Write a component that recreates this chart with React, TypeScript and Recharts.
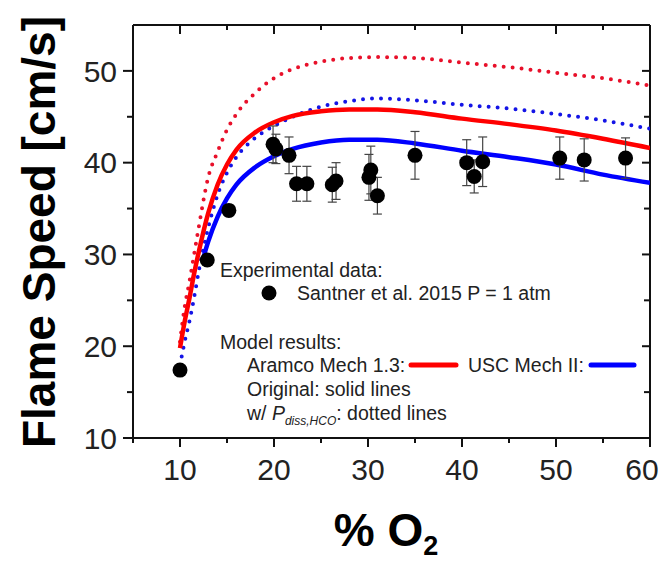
import { ComposedChart, Line, Scatter, ErrorBar, XAxis, YAxis, CartesianGrid } from 'recharts';

// Laminar flame speed vs. oxygen fraction
const curveO2 = [10, 10.5, 11, 11.5, 12, 13, 14, 15, 16, 18, 20, 22, 25, 28, 31, 35, 40, 45, 50, 55, 60];
const aramcoOriginal = [19.8, 22.7, 25.2, 27.9, 30.3, 34.5, 37.6, 39.8, 41.4, 43.3, 44.4, 45.1, 45.6, 45.8, 45.8, 45.5, 44.8, 44.2, 43.5, 42.6, 41.6];
const aramcoDiss = [20.5, 24.3, 27.0, 30.0, 33.0, 38.4, 41.2, 43.6, 45.3, 47.6, 49.2, 50.2, 51.0, 51.4, 51.5, 51.4, 50.9, 50.4, 49.8, 49.2, 48.4];
const uscDiss = [17.9, 20.5, 22.7, 25.3, 28.2, 32.9, 36.5, 38.9, 40.6, 42.7, 44.0, 45.0, 46.1, 46.7, 47.0, 46.8, 46.3, 45.9, 45.3, 44.6, 43.7];

const uscOriginalO2 = [12.5, 13, 14, 15, 16, 18, 20, 22, 25, 28, 31, 35, 40, 45, 50, 55, 60];
const uscOriginal = [29.7, 31.4, 34.1, 36.1, 37.6, 39.5, 40.7, 41.5, 42.2, 42.5, 42.5, 42.1, 41.3, 40.6, 39.8, 38.7, 37.8];

// Santner et al. 2015, P = 1 atm
const expO2 = [10.0, 12.9, 15.2, 19.9, 20.2, 21.6, 22.4, 23.5, 26.2, 26.6, 30.1, 30.3, 31.0, 35.0, 40.5, 41.3, 42.2, 50.4, 53.0, 57.4];
const expSpeed = [17.4, 29.4, 34.8, 42.0, 41.5, 40.8, 37.7, 37.7, 37.6, 38.0, 38.4, 39.2, 36.4, 40.8, 40.0, 38.5, 40.1, 40.5, 40.3, 40.5];
const expErr = [0, 0, 0.6, 2.0, 1.6, 2.0, 1.9, 1.9, 1.9, 2.0, 2.5, 2.6, 2.0, 2.6, 2.5, 1.8, 2.7, 2.3, 2.3, 2.2];

const xTicks = [5, 10, 15, 20, 25, 30, 35, 40, 45, 50, 55, 60];
const yTicks = [10, 15, 20, 25, 30, 35, 40, 45, 50];
const X_DOMAIN = [5, 60];
const Y_DOMAIN = [10, 55];

const toPoints = (xs: number[], ys: number[]) => xs.map((x, i) => ({ x, y: ys[i] }));

const aramcoOrigData = toPoints(curveO2, aramcoOriginal);
const aramcoDissData = toPoints(curveO2, aramcoDiss);
const uscDissData = toPoints(curveO2, uscDiss);
const uscOrigData = toPoints(uscOriginalO2, uscOriginal);
const expData = expO2.map((x, i) => ({ x, y: expSpeed[i], err: expErr[i] }));

const FONT = 'Liberation Sans, Arial, Helvetica, sans-serif';
const INK = '#111';
const RED = '#ff0000';
const RED_DOT = '#e8102a';
const BLUE = '#0000ff';
const BLUE_DOT = '#1414e6';

const W = 663;
const H = 556;
const MARGIN = { top: 17, right: 21, left: 0, bottom: 66 };
const X_AXIS_H = 60;
const Y_AXIS_W = 125;
// plot box
const PLOT_L = MARGIN.left + Y_AXIS_W;
const PLOT_T = MARGIN.top;
const PLOT_W = W - MARGIN.left - MARGIN.right - Y_AXIS_W;
const PLOT_H = H - MARGIN.top - MARGIN.bottom - X_AXIS_H;

const isMajor = (v: number) => v % 10 === 0;

const BottomTick = ({ x, y, payload }: any) => {
  // last label is pulled in so it stays inside the frame
  const dx = payload.value === 60 ? -8 : 0;
  return (
    <g>
      <line x1={x} y1={y} x2={x} y2={y + (isMajor(payload.value) ? 9 : 5)} stroke={INK} strokeWidth={2} />
      {isMajor(payload.value) && (
        <text x={x + dx} y={y + 42} textAnchor="middle" fontSize={30} fontFamily={FONT} fill="#222">
          {payload.value}
        </text>
      )}
    </g>
  );
};

const LeftTick = ({ x, y, payload }: any) => (
  <g>
    <line x1={x - (isMajor(payload.value) ? 10 : 6)} y1={y} x2={x} y2={y} stroke={INK} strokeWidth={2} />
    {isMajor(payload.value) && (
      <text x={x - 16} y={y} dy="0.36em" textAnchor="end" fontSize={30} fontFamily={FONT} fill="#222">
        {payload.value}
      </text>
    )}
  </g>
);

const Dot = ({ cx, cy }: any) => <circle cx={cx} cy={cy} r={7.5} fill="#000" />;

const px = (v: number) => PLOT_L + ((v - X_DOMAIN[0]) / (X_DOMAIN[1] - X_DOMAIN[0])) * PLOT_W;
const py = (v: number) => PLOT_T + PLOT_H - ((v - Y_DOMAIN[0]) / (Y_DOMAIN[1] - Y_DOMAIN[0])) * PLOT_H;

// inward ticks on the top and right sides of the box
const BoxTicks = () => (
  <g>
    {xTicks.map((v) => (
      <path key={`t${v}`} d={`M${px(v)},${PLOT_T} V${PLOT_T + (isMajor(v) ? 9 : 5)}`} stroke="#111111" strokeWidth={2} />
    ))}
    {yTicks.map((v) => (
      <path key={`r${v}`} d={`M${PLOT_L + PLOT_W - (isMajor(v) ? 8 : 6)},${py(v)} H${PLOT_L + PLOT_W}`} stroke="#111111" strokeWidth={2} />
    ))}
  </g>
);

const Annotations = () => (
  <svg width={W} height={H} style={{ position: 'absolute', left: 0, top: 0, pointerEvents: 'none' }}>
    <BoxTicks />
    <text
      transform="translate(47,224) rotate(-90)"
      textAnchor="middle"
      fontSize={46}
      fontWeight="bold"
      fontFamily={FONT}
      fill="#000"
    >
      Flame Speed [cm/s]
    </text>
    <text x={378} y={538} textAnchor="middle" fontSize={46} fontWeight="bold" fontFamily={FONT} fill="#000">
      % O<tspan dy={9} fontSize={27}>2</tspan>
    </text>

    <g fontFamily={FONT} fontSize={19.5} fill="#222">
      <text x={212} y={269}>Experimental data:</text>
      <circle cx={261} cy={285} r={7.5} fill="#000" />
      <text x={289} y={292}>Santner et al. 2015 P = 1 atm</text>
      <text x={212} y={341}>Model results:</text>
      <text x={239} y={364}>Aramco Mech 1.3:</text>
      <line x1={403} y1={357} x2={448} y2={357} stroke={RED} strokeWidth={5} strokeLinecap="round" />
      <text x={460} y={364}>USC Mech II:</text>
      <line x1={583} y1={357} x2={626} y2={357} stroke={BLUE} strokeWidth={5} strokeLinecap="round" />
      <text x={239} y={388}>Original: solid lines</text>
      <text x={239} y={412}>
        w/ <tspan fontStyle="italic">P</tspan>
        <tspan fontStyle="italic" fontSize={12} dy={5}>diss,HCO</tspan>
        <tspan dy={-5}>: dotted lines</tspan>
      </text>
    </g>
  </svg>
);

export default function App() {
  return (
    <div style={{ position: 'relative', width: W, height: H }}>
      <ComposedChart width={W} height={H} margin={MARGIN}>
        {/* top and right sides of the frame */}
        <CartesianGrid
          horizontalPoints={[PLOT_T]}
          verticalPoints={[PLOT_L + PLOT_W]}
          stroke={INK}
          strokeWidth={2}
          strokeDasharray="0"
          fill="none"
        />
        <XAxis
          dataKey="x"
          type="number"
          domain={X_DOMAIN}
          ticks={xTicks}
          interval={0}
          allowDataOverflow
          height={X_AXIS_H}
          tickSize={0}
          tickMargin={0}
          tickLine={false}
          axisLine={{ stroke: INK, strokeWidth: 2 }}
          tick={<BottomTick />}
        />
        <YAxis
          type="number"
          domain={Y_DOMAIN}
          ticks={yTicks}
          interval={0}
          allowDataOverflow
          width={Y_AXIS_W}
          tickSize={0}
          tickMargin={0}
          tickLine={false}
          axisLine={{ stroke: INK, strokeWidth: 2 }}
          tick={<LeftTick />}
        />

        <Line data={aramcoDissData} dataKey="y" type="monotone" stroke={RED_DOT} strokeWidth={4} strokeDasharray="0 9" strokeLinecap="round" dot={false} isAnimationActive={false} />
        <Line data={uscDissData} dataKey="y" type="monotone" stroke={BLUE_DOT} strokeWidth={4} strokeDasharray="0 9" strokeLinecap="round" dot={false} isAnimationActive={false} />
        <Line data={aramcoOrigData} dataKey="y" type="monotone" stroke={RED} strokeWidth={4.5} dot={false} isAnimationActive={false} />
        <Line data={uscOrigData} dataKey="y" type="monotone" stroke={BLUE} strokeWidth={4.5} dot={false} isAnimationActive={false} />

        <Scatter data={expData} dataKey="y" shape={<Dot />} isAnimationActive={false}>
          <ErrorBar dataKey="err" direction="y" width={4.5} stroke="#444" strokeWidth={1.2} />
        </Scatter>
      </ComposedChart>
      <Annotations />
    </div>
  );
}
